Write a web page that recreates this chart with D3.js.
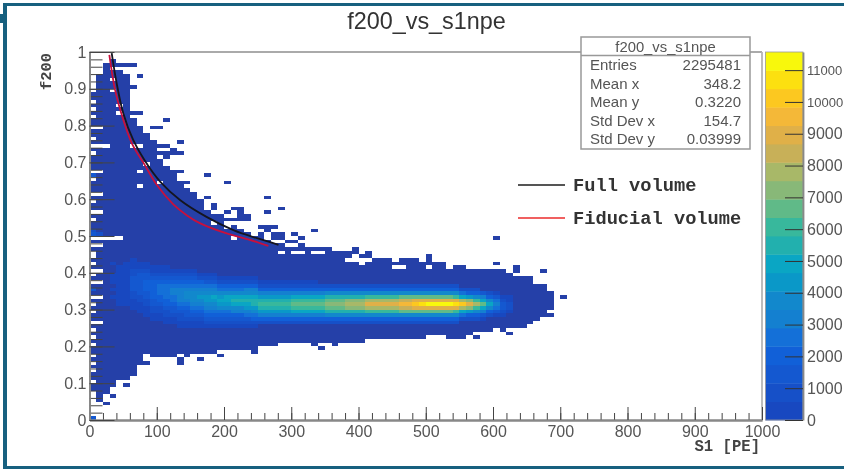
<!DOCTYPE html>
<html>
<head>
<meta charset="utf-8">
<script src="https://cdnjs.cloudflare.com/ajax/libs/d3/7.8.5/d3.min.js"></script>
<style>
  html, body { margin: 0; padding: 0; background: #fff; overflow: hidden; }
  svg { display: block; filter: blur(0.6px); }
  text { font-family: "Liberation Sans", Arial, sans-serif; fill: #555; }
  .mono { font-family: "Liberation Mono", monospace; font-weight: bold; fill: #333; }
</style>
</head>
<body>
<svg id="canvas" width="844" height="469"></svg>
<script>
const binWidth  = 10;     // S1 [PE]
const binHeight = 0.01;   // f200
const levelStep = 578;    // counts per palette band
const zMax = 11570;

// Lowest / highest filled row of every x bin (column 0 to 68)
const envelopeLow = [
  8, 5, 7, 9, 11, 11, 12, 15, 18, 17,
  17, 17, 17, 18, 17, 18, 18, 18, 18, 19,
  19, 19, 19, 19, 18, 20, 20, 20, 21, 21,
  21, 21, 21, 21, 21, 21, 21, 21, 21, 21,
  21, 22, 22, 22, 22, 22, 22, 22, 22, 22,
  23, 23, 23, 22, 22, 22, 23, 24, 24, 24,
  25, 24, 25, 25, 25, 26, 27, 28, 30
];
const envelopeHigh = [
  88, 93, 96, 97, 94, 91, 81, 79, 77, 75,
  70, 68, 65, 64, 62, 61, 59, 56, 55, 54,
  54, 54, 51, 50, 49, 48, 48, 47, 47, 46,
  46, 46, 46, 46, 46, 46, 45, 45, 45, 45,
  44, 44, 43, 43, 43, 42, 43, 43, 43, 42,
  42, 42, 42, 40, 41, 41, 40, 40, 40, 40,
  40, 40, 39, 38, 38, 38, 36, 36, 34
];

// Isolated filled bins [column, row]
const strayBins = [
  [2,4],[3,6],[5,9],[8,15],[13,15],[13,16],[16,16],[19,17],[33,20],[34,19],[36,20],[57,22],[62,23],[68,28],
  [4,96],[5,96],[6,96],[7,93],[5,92],[5,93],[6,90],[6,83],[7,83],[9,79],[10,79],[11,81],
  [10,74],[11,74],[10,72],[11,72],[11,71],[12,73],[12,72],[13,75],[13,72],[12,67],[12,66],[13,67],[14,64],
  [17,60],[17,66],[18,57],[18,58],[19,55],[20,56],[20,64],[21,57],[22,54],[22,55],[22,56],[22,57],
  [23,54],[23,55],[25,49],[25,50],[25,52],[26,51],[26,52],[26,56],[26,60],[27,49],[27,50],[27,52],
  [28,49],[28,50],[28,57],[29,48],[30,48],[30,50],[31,47],[31,49],[33,51],[39,46],[41,45],
  [50,43],[50,44],[60,42],[60,49],[63,40],[63,41],[67,40],[70,33]
];

// Empty bins inside the filled area [column, rows]
const emptyBins = [
  [0, [86,84,82,79,76,74,72,67,65,61,59,56,54,49,47,45,44,42,40,39,37,33,31,29,26,24,22,20,17,15,13,10]],
  [1, [79,74,67,61,56,49,47,40,37,33,26]],
  [2, [74,49]], [3, [95,92,89,49]], [4, [85,83,49]], [6, [74]], [7, [74,67,63]], [8, [69]], [10, [64]],
  [18, [53]], [20, [53,52]], [21, [53,49]], [28, [45]], [30, [45]], [31, [45]], [33, [45]], [34, [45]],
  [38, [43]], [39, [44,43]], [40, [43,42]], [41, [43]], [45, [41]], [46, [41]], [50, [41]]
];

// Brighter single bins along the S1 = 0 edge [column, row, level]
const brightBins = [[0,0,3],[0,66,3],[0,50,3],[0,51,2],[0,35,3],[1,50,2]];

// Coloured core: first row of each column, then palette level per row going up (base 36)
const coreColumns = [3,4,5,6,7,8,9,10,11,12,13,14,15,16,17,18,19,20,21,22,23,24,
  25,26,27,28,29,30,31,32,33,34,35,36,37,38,39,40,41,42,43,44,45,46,47,48,49,50,51,52,53,54,
  55,56,57,58,59,60,61,62];
const coreStart = [33,31,31,30,29,28,27,27,26,26,25,25,25,25,25,25,25,25,25,25,25,25,
  26,26,26,26,26,26,26,26,26,26,26,26,26,26,26,26,26,26,26,26,26,26,26,26,26,26,26,26,26,26,
  27,27,27,27,28,28,28,29];
const coreLevels = [
  "1010111001", "11111111111", "111111111111", "11122333322111", "11122333333211",
  "111223344433211", "112233444443211", "112234455543211", "1122344555543211", "112334556654321",
  "1122345666654321", "1123345677654321", "1123456777654321", "112345678765421", "123456788765321",
  "123456789765321", "12345789875421", "12345789975421", "1234679a975421", "1234679a975421",
  "1235689a976421", "124578aa976421",
  "2468aba86421", "2468aba86421", "2468aba86421", "2468aba86421", "2468aba86421", "2469bcb96421",
  "2469bcb96421", "2469bcb96421", "2469bcb96421",
  "2469bcb9642", "247acdca742", "247acdca742", "247acdca742", "247adeda742", "247adeda742",
  "247adeda742", "247begeb742", "247begeb742", "247begeb742", "247begeb742", "247begeb742",
  "247cfhfc742", "247cfhfc742", "247cgigc742", "247cgjgc742", "247cgkgc742", "247cgkgc742",
  "247cgkgc742", "247cgkgc742", "247bgjgb742",
  "259eie952", "248dgd842", "247beb742", "1369c963", "2479742", "1356531", "123321", "12211"
];

// Palette: darkest is for sparse bins, the other 20 are the bands of the colour bar
const sparseColor = "#2540a8";
const paletteBands = [
  "#1848c0", "#1650c8", "#1458d0", "#1160d8", "#1470d8", "#1480d0", "#1288cc", "#0a98c8", "#0aa6c4", "#22b0ae",
  "#38b89c", "#60ba88", "#88b878", "#a8b868", "#c8b058", "#e0b048", "#f4b838", "#fcc820", "#fce010", "#f8f80c"
];

// Curves [S1, f200]
const fullVolume = [[33,0.997],[40.4,0.915],[50.3,0.833],[65,0.761],[85,0.697],[105,0.648],[134.6,0.598],[174,0.552],[214,0.516],[249,0.494],[281,0.476]];
const fiducialVolume = [[29.5,0.992],[38,0.897],[48,0.829],[63,0.752],[82.5,0.692],[100,0.639],[124.6,0.586],[145,0.556],[164,0.535],[204,0.507],[236,0.491],[266,0.473]];

// Tick labels
const xTicks = [0,100,200,300,400,500,600,700,800,900,1000];
const yTicks = [0,0.1,0.2,0.3,0.4,0.5,0.6,0.7,0.8,0.9,1];
const zTicks = [0,1000,2000,3000,4000,5000,6000,7000,8000,9000,10000,11000];

// Stats box
const statNames  = ["Entries","Mean x","Mean y","Std Dev x","Std Dev y"];
const statValues = ["2295481","348.2","0.3220","154.7","0.03999"];

const legendNames = ["Full volume","Fiducial volume"];

const svg = d3.select('#canvas');

const xScale = d3.scaleLinear().domain([0,1000]).range([89.5,762]);
const yScale = d3.scaleLinear().domain([0,1]).range([420,52]);
const zScale = d3.scaleLinear().domain([0,zMax]).range([420,52]);
const colorScale = d3.scaleThreshold()
  .domain([200].concat(paletteBands.slice(1).map((c,i) => (i+1)*levelStep)))
  .range([sparseColor].concat(paletteBands));

// Level of a bin -> counts (middle of its band)
const levelCount = l => l === 0 ? 100 : (l-0.5)*levelStep;

// Fill the bin map from the arrays above
const bins = new Map();
const key = (c,r) => c*1000+r;
envelopeLow.forEach((lo,c) => {
  for (let r = lo; r <= envelopeHigh[c]; r++) bins.set(key(c,r), {c, r, n: levelCount(0)});
});
strayBins.forEach(([c,r]) => bins.set(key(c,r), {c, r, n: levelCount(0)}));
emptyBins.forEach(([c,rows]) => rows.forEach(r => bins.delete(key(c,r))));
coreColumns.forEach((c,i) => {
  coreLevels[i].split('').forEach((ch,k) => {
    const r = coreStart[i]+k;
    bins.set(key(c,r), {c, r, n: levelCount(parseInt(ch,36))});
  });
});
brightBins.forEach(([c,r,l]) => bins.set(key(c,r), {c, r, n: levelCount(l)}));

// Heat map
svg.append('g').selectAll('rect')
  .data(Array.from(bins.values()))
  .enter()
  .append('rect')
    .attr('x', d => xScale(d.c*binWidth))
    .attr('y', d => yScale((d.r+1)*binHeight))
    .attr('width', xScale(binWidth)-xScale(0))
    .attr('height', yScale(0)-yScale(binHeight))
    .attr('fill', d => colorScale(d.n))
    .attr('shape-rendering', 'crispEdges');

// Curves
const line = d3.line().x(d => xScale(d[0])).y(d => yScale(d[1])).curve(d3.curveCatmullRom);
svg.append('path').attr('d', line(fullVolume)).attr('fill','none').attr('stroke','#15151f').attr('stroke-width',1.8);
svg.append('path').attr('d', line(fiducialVolume)).attr('fill','none').attr('stroke','#c8103c').attr('stroke-width',1.8);

// Frame top and right
svg.append('line').attr('x1',89.5).attr('x2',762).attr('y1',52).attr('y2',52).attr('stroke','#aaa').attr('stroke-width',1.8);
svg.append('line').attr('x1',762).attr('x2',762).attr('y1',52).attr('y2',420).attr('stroke','#b5b5b5').attr('stroke-width',1.8);

// Axes with ticks pointing into the plot
function styleAxis(g, color) {
  g.select('.domain').attr('stroke', color).attr('stroke-width', 1.8);
  g.selectAll('.tick line').attr('stroke', '#444').attr('stroke-width', 1);
  g.selectAll('text').attr('fill', '#555').style('font-size', '16px')
    .style('font-family', '"Liberation Sans", Arial, sans-serif');
}
const xMinor = svg.append('g').attr('transform','translate(0,420)')
  .call(d3.axisBottom(xScale).tickValues(d3.range(0,1001,20)).tickSize(-7).tickSizeOuter(0).tickFormat(''));
styleAxis(xMinor, '#888');
const xAxis = svg.append('g').attr('transform','translate(0,420)')
  .call(d3.axisBottom(xScale).tickValues(xTicks).tickSizeInner(-13).tickSizeOuter(0).tickPadding(6).tickFormat(d3.format('d')));
styleAxis(xAxis, '#888');

const yMinor = svg.append('g').attr('transform','translate(89.5,0)')
  .call(d3.axisLeft(yScale).tickValues(d3.range(0,51).map(i => i*0.02)).tickSize(-13).tickSizeOuter(0).tickFormat(''));
styleAxis(yMinor, '#888');
const yAxis = svg.append('g').attr('transform','translate(89.5,0)')
  .call(d3.axisLeft(yScale).tickValues(yTicks).tickSizeInner(-25).tickSizeOuter(0).tickPadding(3).tickFormat(d3.format('~g')));
styleAxis(yAxis, '#888');

// Axis titles
svg.append('text').attr('class','mono').attr('x',760).attr('y',451).attr('text-anchor','end')
  .style('font-size','15.6px').style('fill','#444').text('S1 [PE]');
svg.append('text').attr('class','mono').attr('transform','translate(51,90) rotate(-90)')
  .style('font-size','15.4px').style('fill','#444').text('f200');

// Title
svg.append('text').attr('x',426.5).attr('y',29).attr('text-anchor','middle')
  .style('font-size','23.4px').style('fill','#333').text('f200_vs_s1npe');

// Colour bar
const barLeft = 765.5, barRight = 803;
svg.append('g').selectAll('rect')
  .data(paletteBands)
  .enter()
  .append('rect')
    .attr('x', barLeft)
    .attr('y', (d,i) => zScale((i+1)*zMax/paletteBands.length))
    .attr('width', barRight-barLeft)
    .attr('height', zScale(0)-zScale(zMax/paletteBands.length)+0.4)
    .attr('fill', d => d);
svg.append('rect').attr('x',barLeft).attr('y',52).attr('width',barRight-barLeft).attr('height',368)
  .attr('fill','none').attr('stroke','#999').attr('stroke-width',0.8);
const zAxis = svg.append('g').attr('transform',`translate(${barRight},0)`)
  .call(d3.axisRight(zScale).tickValues(zTicks).tickSizeInner(-18).tickSizeOuter(0).tickPadding(4).tickFormat(d3.format('d')));
styleAxis(zAxis, '#888');
zAxis.selectAll('.tick line').attr('stroke','#333');
// the 5 digit labels run up to the page edge, smaller font keeps them inside
zAxis.selectAll('.tick text').filter(d => d >= 10000).style('font-size', '13px');

// Stats box
const box = svg.append('g');
box.append('rect').attr('x',581).attr('y',37).attr('width',169).attr('height',112)
  .attr('fill','#fff').attr('stroke','#999').attr('stroke-width',1.5);
box.append('line').attr('x1',581).attr('x2',750).attr('y1',55.5).attr('y2',55.5).attr('stroke','#999').attr('stroke-width',1.5);
box.append('text').attr('x',665.5).attr('y',51.5).attr('text-anchor','middle')
  .style('font-size','14.8px').text('f200_vs_s1npe');
statNames.forEach((name,i) => {
  const y = 70 + i*18.5;
  box.append('text').attr('x',590).attr('y',y).style('font-size','15px').text(name);
  box.append('text').attr('x',741).attr('y',y).attr('text-anchor','end').style('font-size','15px').text(statValues[i]);
});

// Legend
const legendColors = ['#555','#f06060'];
legendNames.forEach((name,i) => {
  const y = 185 + i*33;
  svg.append('line').attr('x1',518).attr('x2',565).attr('y1',y).attr('y2',y)
    .attr('stroke',legendColors[i]).attr('stroke-width',1.8);
  svg.append('text').attr('class','mono').attr('x',573).attr('y',y+5.5)
    .style('font-size','18.7px').text(name);
});

// Blue border of the slide
const border = '#17607f';
svg.append('rect').attr('x',3).attr('y',3).attr('width',841).attr('height',3).attr('fill',border);
svg.append('rect').attr('x',3).attr('y',3).attr('width',4).attr('height',464).attr('fill',border);
svg.append('rect').attr('x',3).attr('y',466).attr('width',841).attr('height',3).attr('fill',border);
svg.append('rect').attr('x',0).attr('y',14).attr('width',4).attr('height',9).attr('fill',border);
</script>
</body>
</html>
